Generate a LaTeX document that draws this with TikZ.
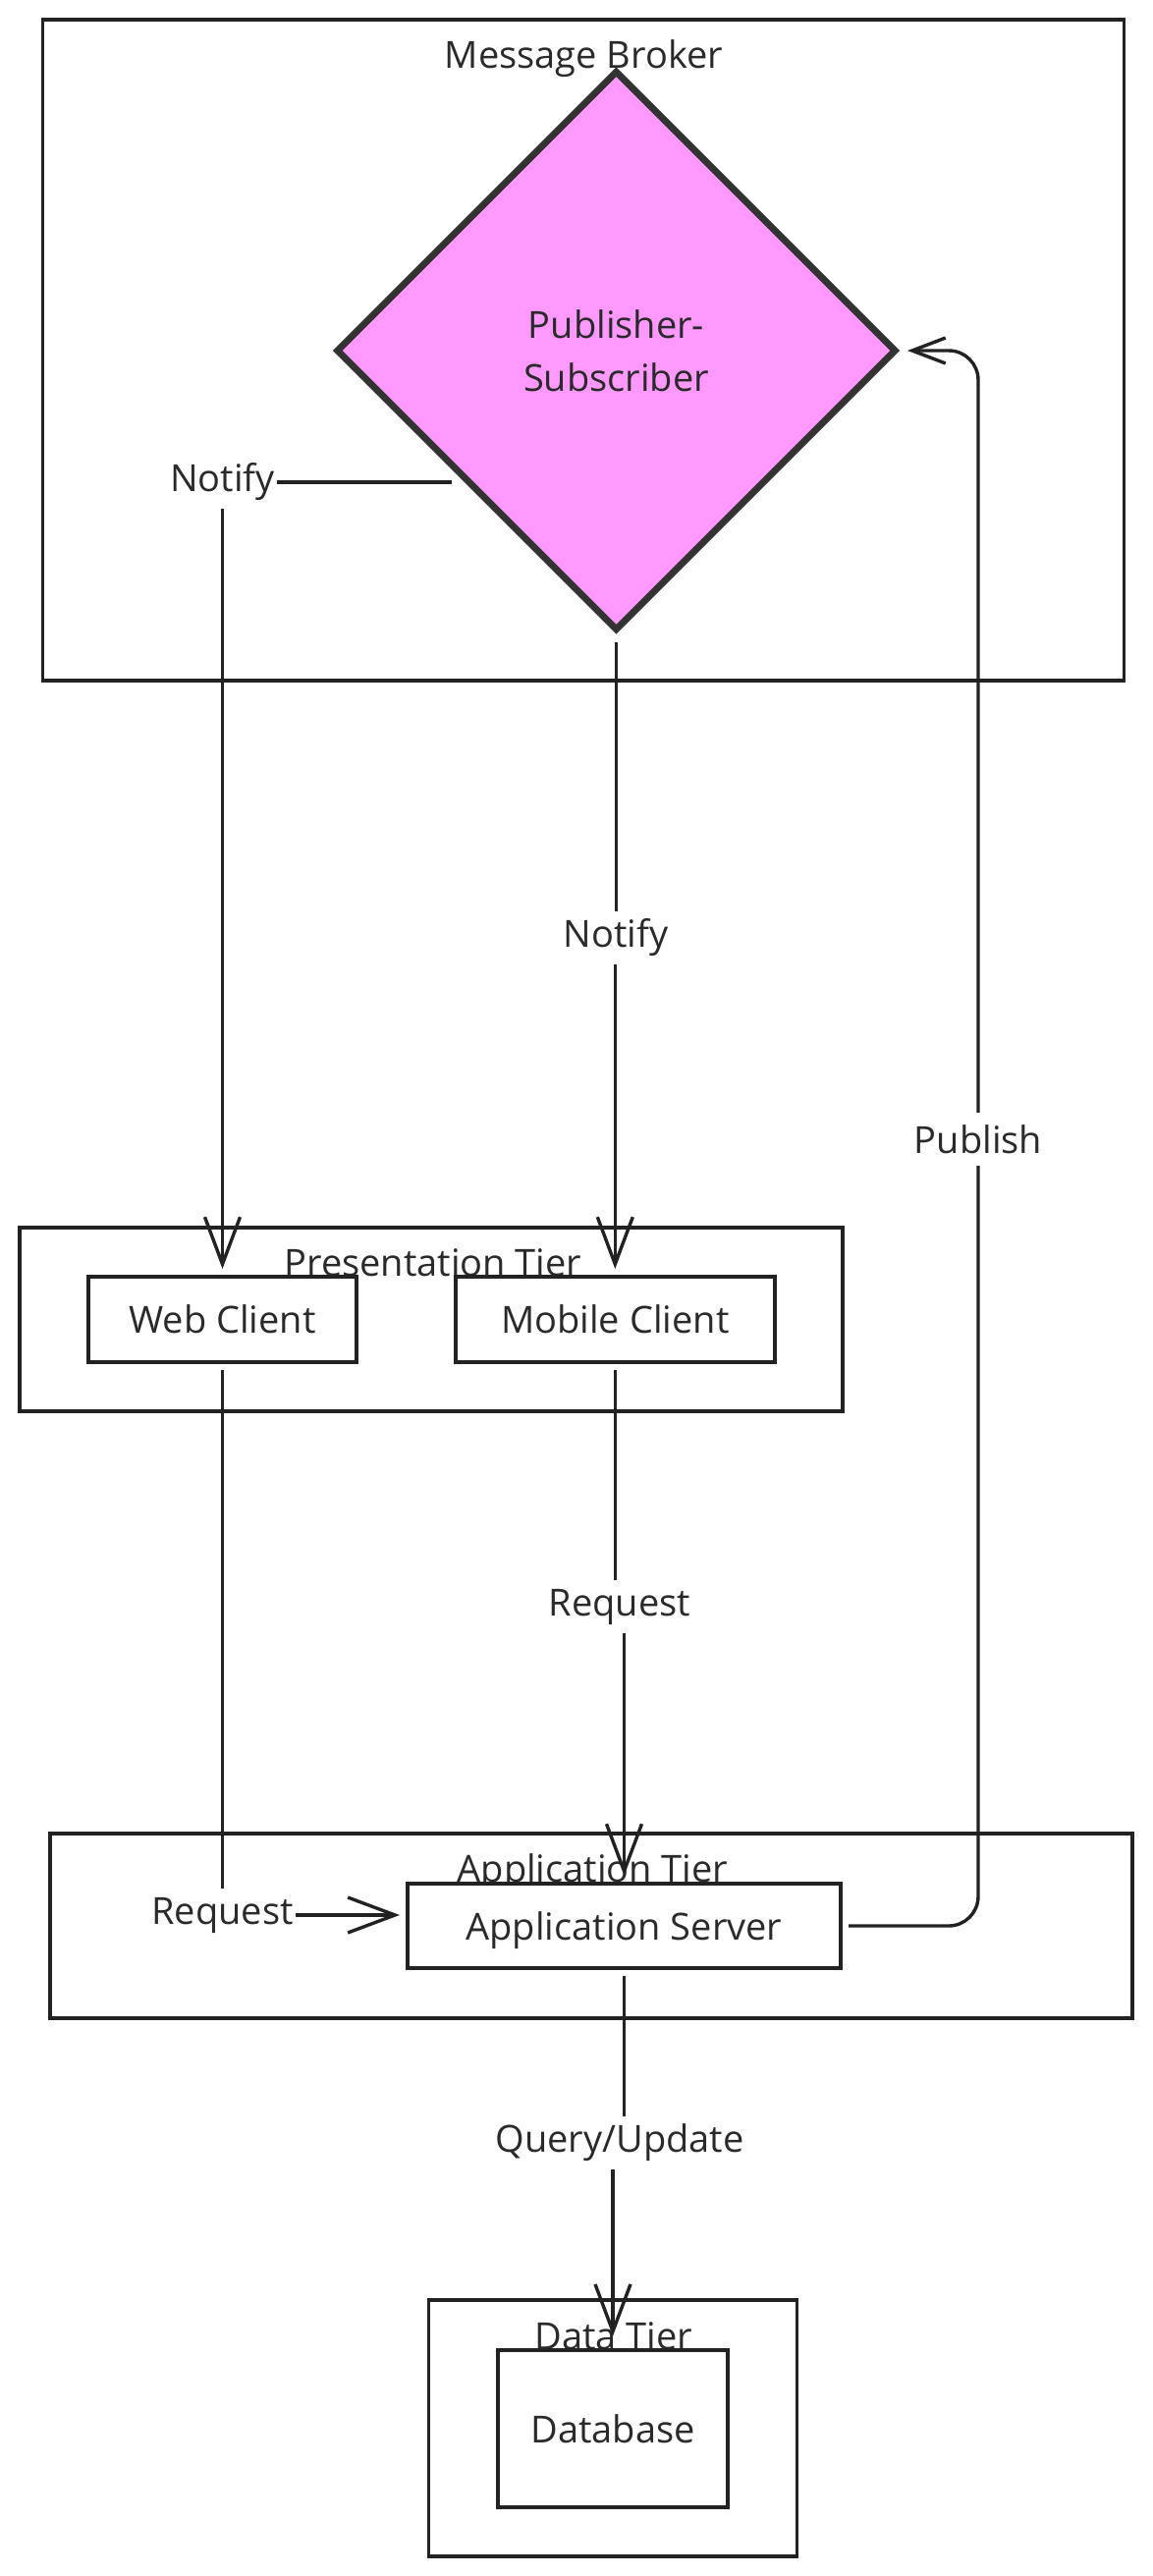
\documentclass[tikz,border=0pt]{standalone}
\usepackage{fontspec}
\setmainfont{Open Sans}
\usetikzlibrary{shapes.geometric,arrows.meta,calc}
\definecolor{ink}{HTML}{222222}
\definecolor{txt}{HTML}{2A2A2A}
\definecolor{dia}{HTML}{333333}
\definecolor{pinkfill}{HTML}{FF99FF}
\begin{document}
\begin{tikzpicture}[x=1pt,y=-1pt,
  font=\fontsize{38}{54}\selectfont,
  every node/.style={text=txt},
  frame/.style={draw=ink,line width=3.6pt,rectangle,inner sep=0pt},
  box/.style={draw=ink,line width=3.6pt,fill=white,rectangle,inner sep=0pt,outer sep=8pt,text depth=0pt},
  lbl/.style={inner xsep=2pt,inner ysep=0pt,minimum height=54pt},
  conn/.style={draw=ink,line width=3.4pt},
  arr/.style={conn,-{Straight Barb[length=48pt,width=36pt]}},
  arrsmall/.style={conn,-{Straight Barb[length=34pt,width=26pt]}},
]
\useasboundingbox (0,0) rectangle (1173,2623);
% frames
\node[frame,minimum width=1101pt,minimum height=673pt] (mbf) at (594,356.5) {};
\node[frame,minimum width=838pt,minimum height=187pt] (ptf) at (439,1343.5) {};
\node[frame,minimum width=1102pt,minimum height=188pt] (atf) at (602,1961) {};
\node[frame,minimum width=375pt,minimum height=261pt] (dtf) at (624,2472.5) {};
% frame titles
\node[anchor=base] (mbt) at (594.5,69) {Message Broker};
\node[anchor=base] (ptt) at (441,1299) {Presentation Tier};
\node[anchor=base] (att) at (603.5,1916) {Application Tier};
\node[anchor=base] (dtt) at (625,2392) {Data Tier};
% main nodes
\node[diamond,draw=dia,line width=7pt,fill=pinkfill,minimum width=575pt,minimum height=575pt,
      inner sep=0pt,outer sep=9pt,align=center,text depth=0pt] (ps) at (627.5,357) {Publisher-\\Subscriber};
\node[box,minimum width=273pt,minimum height=87pt] (web) at (226.5,1343.5) {Web Client};
\node[box,minimum width=325pt,minimum height=87pt] (mob) at (626.3,1343.5) {Mobile Client};
\node[box,minimum width=441pt,minimum height=86pt] (as) at (635.5,1961) {Application Server};
\node[box,minimum width=234pt,minimum height=160pt,outer sep=14pt] (db) at (624,2472.7) {Database};
% connector labels
\node[lbl] (lN1) at (226.5,491) {Notify};
\node[lbl] (lN2) at (627,955) {Notify};
\node[lbl] (lR1) at (226.5,1950) {Request};
\node[lbl] (lR2) at (631,1636) {Request};
\node[lbl] (lP) at (996,1160) {Publish};
\node[lbl] (lQ) at (631,2182) {Query/Update};
\coordinate (n1a) at (460,491);
% connectors
\draw[conn] (n1a) -- (lN1);
\draw[arr] (lN1) -- (web);
\draw[conn] (ps.south) -- (ps.south |- lN2.north);
\draw[arr] (mob.north |- lN2.south) -- (mob.north);
\draw[conn] (web) -- (lR1);
\draw[arr] (lR1.east) -- (lR1.east -| as.west);
\draw[conn] (mob.south) -- (mob.south |- lR2.north);
\draw[arr] (as.north |- lR2.south) -- (as.north);
\draw[conn,rounded corners=30pt] (as.east) -| (lP.south);
\draw[arrsmall,rounded corners=30pt] (lP.north) |- (ps.east);
\draw[conn] (as.south) -- (as.south |- lQ.north);
\draw[arr] (db.north |- lQ.south) -- (db.north);
\end{tikzpicture}
\end{document}
